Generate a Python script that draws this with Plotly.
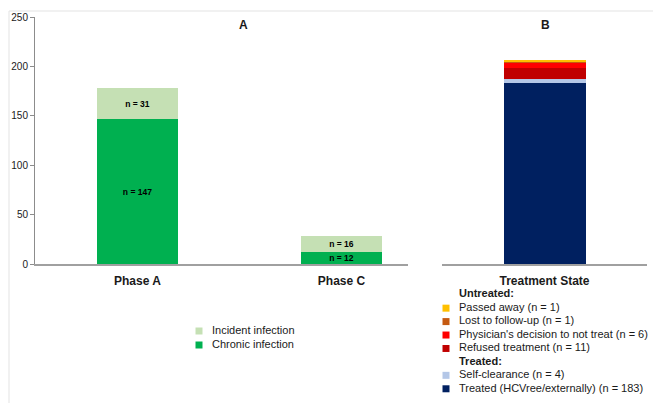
import plotly.graph_objects as go

W, H = 653, 403

# ---- data -------------------------------------------------------------
phases = ["Phase A", "Phase C"]
chronic = [147, 12]
incident = [31, 16]

state_cat = ["Treatment State"]
# stacked bottom -> top
state_names = ["Treated (HCVree/externally)", "Self-clearance", "Refused treatment",
               "Physician's decision to not treat", "Lost to follow-up", "Passed away"]
state_counts = [183, 4, 11, 6, 1, 1]
state_groups = ["Treated:", "Treated:", "Untreated:", "Untreated:", "Untreated:", "Untreated:"]

y_ticks = [0, 50, 100, 150, 200, 250]

# ---- styling ----------------------------------------------------------
GREEN_DARK = "#00b050"
GREEN_LIGHT = "#c5e0b4"
state_colors = ["#002060", "#b4c7e7", "#c00000", "#ff0000", "#c55a11", "#ffc000"]
FONT = "Liberation Sans, Arial, sans-serif"
TXT = "#1a1a1a"
AXIS_GREY = "#a0a0a0"


def px_x(p):
    return p / W


def px_y(p):
    return 1 - p / H


fig = go.Figure()

# ---- panel A: stacked infection bars ----------------------------------
for name, vals, col in [("Chronic infection", chronic, GREEN_DARK),
                        ("Incident infection", incident, GREEN_LIGHT)]:
    fig.add_trace(go.Bar(
        x=phases, y=vals, name=name, marker=dict(color=col, line=dict(width=0)),
        width=0.397, xaxis="x", yaxis="y", showlegend=False,
        texttemplate="<b>n = %{y}</b>", textposition="inside",
        insidetextanchor="middle", textangle=0, constraintext="none",
        textfont=dict(size=8.5, color="#000000", family=FONT),
        hoverinfo="name+y",
    ))

# ---- panel B: stacked treatment state bar -----------------------------
for name, cnt, col in zip(state_names, state_counts, state_colors):
    fig.add_trace(go.Bar(
        x=state_cat, y=[cnt], name=name, marker=dict(color=col, line=dict(width=0)),
        width=0.4, xaxis="x2", yaxis="y2", showlegend=False, hoverinfo="name+y",
    ))

# ---- legend A (drawn as a small marker/text subplot) ------------------
leg_a_names = ["Incident infection", "Chronic infection"]
leg_a_colors = [GREEN_LIGHT, GREEN_DARK]
leg_a_rows = list(range(len(leg_a_names)))
fig.add_trace(go.Scatter(
    x=[0] * len(leg_a_rows), y=leg_a_rows, mode="markers",
    marker=dict(symbol="square", size=7, color=leg_a_colors, line=dict(width=0)),
    xaxis="x3", yaxis="y3", showlegend=False, hoverinfo="skip", cliponaxis=False,
))
fig.add_trace(go.Scatter(
    x=[1] * len(leg_a_rows), y=leg_a_rows, mode="text", text=leg_a_names,
    textposition="middle right", textfont=dict(size=11, color=TXT, family=FONT),
    xaxis="x3", yaxis="y3", showlegend=False, hoverinfo="skip", cliponaxis=False,
))

# ---- legend B: grouped rows, untreated first, top of stack first ------
rows_text, rows_color, rows_is_header = [], [], []
for grp in ["Untreated:", "Treated:"]:
    rows_text.append("<b>" + grp + "</b>")
    rows_color.append(None)
    rows_is_header.append(True)
    for name, cnt, col, g in reversed(list(zip(state_names, state_counts, state_colors, state_groups))):
        if g == grp:
            rows_text.append(f"{name} (n = {cnt})")
            rows_color.append(col)
            rows_is_header.append(False)
row_idx = list(range(len(rows_text)))
mk_rows = [i for i in row_idx if not rows_is_header[i]]
fig.add_trace(go.Scatter(
    x=[0] * len(mk_rows), y=mk_rows, mode="markers",
    marker=dict(symbol="square", size=7, color=[rows_color[i] for i in mk_rows], line=dict(width=0)),
    xaxis="x4", yaxis="y4", showlegend=False, hoverinfo="skip", cliponaxis=False,
))
fig.add_trace(go.Scatter(
    x=[1] * len(row_idx), y=row_idx, mode="text", text=rows_text,
    textposition="middle right", textfont=dict(size=11, color=TXT, family=FONT),
    xaxis="x4", yaxis="y4", showlegend=False, hoverinfo="skip", cliponaxis=False,
))

# ---- layout -----------------------------------------------------------
y_dom = [px_y(264), px_y(17)]
yaxis_common = dict(range=[0, 250], domain=y_dom, showgrid=False, zeroline=False,
                    automargin=False, fixedrange=True)
hidden = dict(visible=False, showgrid=False, zeroline=False, automargin=False, fixedrange=True)

fig.update_layout(
    width=W, height=H,
    margin=dict(l=0, r=0, t=0, b=0),
    paper_bgcolor="white", plot_bgcolor="white",
    barmode="stack", bargap=0,
    showlegend=False,
    font=dict(family=FONT, color=TXT),
    xaxis=dict(domain=[px_x(35), px_x(408)], type="category", categoryorder="array",
               categoryarray=phases, range=[-0.502, 1.326],
               tickvals=phases, ticktext=[f"<b>{p}</b>" for p in phases],
               tickfont=dict(size=12, color=TXT), ticks="", ticklabelstandoff=5,
               showline=True, linecolor=AXIS_GREY, linewidth=1.5,
               showgrid=False, zeroline=False, automargin=False, fixedrange=True,
               anchor="y"),
    yaxis=dict(**yaxis_common, tickvals=y_ticks, ticks="outside", ticklen=4,
               tickcolor="#8c8c8c", tickwidth=1, showline=True, linecolor="#8c8c8c",
               linewidth=1, tickfont=dict(size=10, color=TXT), anchor="x"),
    xaxis2=dict(domain=[px_x(442), px_x(647)], type="category", range=[-0.5, 0.5],
                tickvals=state_cat, ticktext=[f"<b>{c}</b>" for c in state_cat],
                tickfont=dict(size=12, color=TXT), ticks="", ticklabelstandoff=5,
                showline=True, linecolor=AXIS_GREY, linewidth=1.5,
                showgrid=False, zeroline=False, automargin=False, fixedrange=True,
                anchor="y2"),
    yaxis2=dict(**yaxis_common, showline=False, showticklabels=False, ticks="", anchor="x2"),
    xaxis3=dict(**hidden, domain=[px_x(192.5), px_x(400)], range=[-0.5, -0.5 + 207.5 / 13], anchor="y3"),
    yaxis3=dict(**hidden, domain=[px_y(352), px_y(324)], range=[1.5, -0.5], anchor="x3"),
    xaxis4=dict(**hidden, domain=[px_x(439.5), px_x(653)], range=[-0.5, -0.5 + 213.5 / 13], anchor="y4"),
    yaxis4=dict(**hidden, domain=[px_y(395.5), px_y(288)], range=[7.5, -0.5], anchor="x4"),
    annotations=[
        dict(text="<b>A</b>", x=px_x(243), y=px_y(25), xref="paper", yref="paper",
             showarrow=False, font=dict(size=12, color=TXT), xanchor="center", yanchor="middle"),
        dict(text="<b>B</b>", x=px_x(545), y=px_y(25), xref="paper", yref="paper",
             showarrow=False, font=dict(size=12, color=TXT), xanchor="center", yanchor="middle"),
    ],
    shapes=[
        # faint outer frame (top and left edges)
        dict(type="line", xref="paper", yref="paper", x0=px_x(9), x1=1, y0=px_y(11), y1=px_y(11),
             line=dict(color="#e3e3e3", width=1)),
        dict(type="line", xref="paper", yref="paper", x0=px_x(9), x1=px_x(9), y0=0, y1=px_y(11),
             line=dict(color="#e3e3e3", width=1)),
    ],
)

fig.write_html("out.html")
